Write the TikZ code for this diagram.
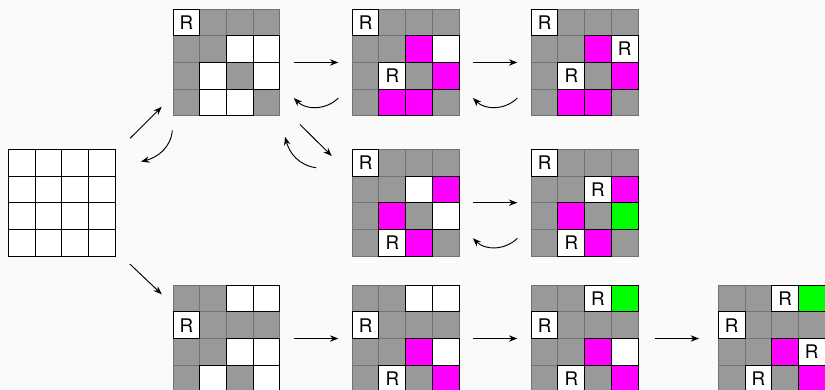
\documentclass[tikz,border=0pt]{standalone}
\usepackage{fontspec}
\setmainfont{TeX Gyre Heros}
\usetikzlibrary{arrows.meta,calc}

\definecolor{wall}{RGB}{153,153,153}
\definecolor{seen}{RGB}{255,0,255}
\definecolor{goal}{RGB}{0,255,0}
\definecolor{paper}{RGB}{250,250,250}

% one 4x4 board: name, centre, 16 cells row by row
% G wall, W free, M visited, N goal, R robot, E empty
\newcommand{\board}[3]{%
	\node[boardbox] (#1) at (#2) {};
	\foreach \c [count=\k from 0] in {#3} {
		\pgfmathtruncatemacro{\col}{mod(\k,4)}
		\pgfmathtruncatemacro{\row}{div(\k,4)}
		\node[cell, fill\c] at ($(#1.north west)+(\col*0.5+0.25,-\row*0.5-0.25)$) {};
	}
	\foreach \c [count=\k from 0] in {#3} {
		\pgfmathtruncatemacro{\col}{mod(\k,4)}
		\pgfmathtruncatemacro{\row}{div(\k,4)}
		\node[cell, edge\c] at ($(#1.north west)+(\col*0.5+0.25,-\row*0.5-0.25)$) {};
	}
}

\begin{document}
\begin{tikzpicture}[
	boardbox/.style={minimum size=2cm, inner sep=0pt, outer sep=0pt},
	cell/.style={minimum size=0.5cm, inner sep=0pt, outer sep=0pt, line width=0.5pt},
	fillG/.style={fill=wall, draw=black!55},
	fillW/.style={fill=white, draw=black},
	fillE/.style={fill=white, draw=black},
	fillR/.style={fill=white, draw=black},
	fillM/.style={fill=seen, draw=black},
	fillN/.style={fill=goal, draw=black},
	edgeG/.style={},
	edgeW/.style={draw=black},
	edgeE/.style={draw=black},
	edgeM/.style={draw=black},
	edgeN/.style={draw=black},
	edgeR/.style={draw=black, label={center:R}},
	link/.style={-{Stealth[length=4.5pt,width=3.4pt]}, line width=0.5pt},
	gap/.style={shorten <=0.26cm, shorten >=0.26cm}
	]
	
	\fill[paper] (0,0) rectangle (15.449,-7.303);
	\useasboundingbox (0,0) rectangle (15.449,-7.303);
	
	% Boards
	\board{start}{1.155,-3.796}{E,E,E,E, E,E,E,E, E,E,E,E, E,E,E,E}
	\board{up1}{4.242,-1.170}{R,G,G,G, G,G,W,W, G,W,G,W, G,W,W,G}
	\board{up2}{7.596,-1.170}{R,G,G,G, G,G,M,W, G,R,G,M, G,M,M,G}
	\board{up3}{10.948,-1.170}{R,G,G,G, G,G,M,R, G,R,G,M, G,M,M,G}
	\board{mid1}{7.596,-3.796}{R,G,G,G, G,G,W,M, G,M,G,W, G,R,M,G}
	\board{mid2}{10.948,-3.796}{R,G,G,G, G,G,R,M, G,M,G,N, G,R,M,G}
	\board{low1}{4.242,-6.339}{G,G,W,W, R,G,G,G, G,G,W,W, G,W,G,W}
	\board{low2}{7.596,-6.339}{G,G,W,W, R,G,G,G, G,G,M,W, G,R,G,M}
	\board{low3}{10.948,-6.339}{G,G,R,N, R,G,G,G, G,G,M,W, G,R,G,M}
	\board{low4}{14.451,-6.339}{G,G,R,N, R,G,G,G, G,G,M,R, G,R,G,M}
	
	% Forward arrows
	\draw[link] ([shift={(0.281,0.206)}]start.north east) -- ([shift={(-0.213,0.170)}]up1.south west);
	\draw[link] ([shift={(0.279,-0.150)}]start.south east) -- ([shift={(-0.213,-0.172)}]low1.north west);
	\draw[link] ([shift={(0.376,-0.161)}]up1.south east) -- ([shift={(-0.384,-0.125)}]mid1.north west);
	\draw[link, gap] (up1) -- (up2);
	\draw[link, gap] (up2) -- (up3);
	\draw[link, gap] (mid1) -- (mid2);
	\draw[link, gap] (low1) -- (low2);
	\draw[link, gap] (low2) -- (low3);
	\draw[link, shorten <=0.32cm, shorten >=0.36cm] (low3) -- (low4);
	
	% Backtracking
	\draw[link] ([shift={(-0.015,-0.273)}]up1.south west) to[out=-95, in=15] ([shift={(0.485,-0.232)}]start.north east);
	\draw[link] ([shift={(-0.678,-0.345)}]mid1.north west) to[out=172, in=-75] ([shift={(0.096,-0.391)}]up1.south east);
	\draw[link] ([shift={(-0.26,-0.665)}]up2.west) to[bend left=45] ([shift={(0.26,-0.665)}]up1.east);
	\draw[link] ([shift={(-0.26,-0.665)}]up3.west) to[bend left=45] ([shift={(0.26,-0.665)}]up2.east);
	\draw[link] ([shift={(-0.26,-0.665)}]mid2.west) to[bend left=45] ([shift={(0.26,-0.665)}]mid1.east);
	
\end{tikzpicture}
\end{document}
